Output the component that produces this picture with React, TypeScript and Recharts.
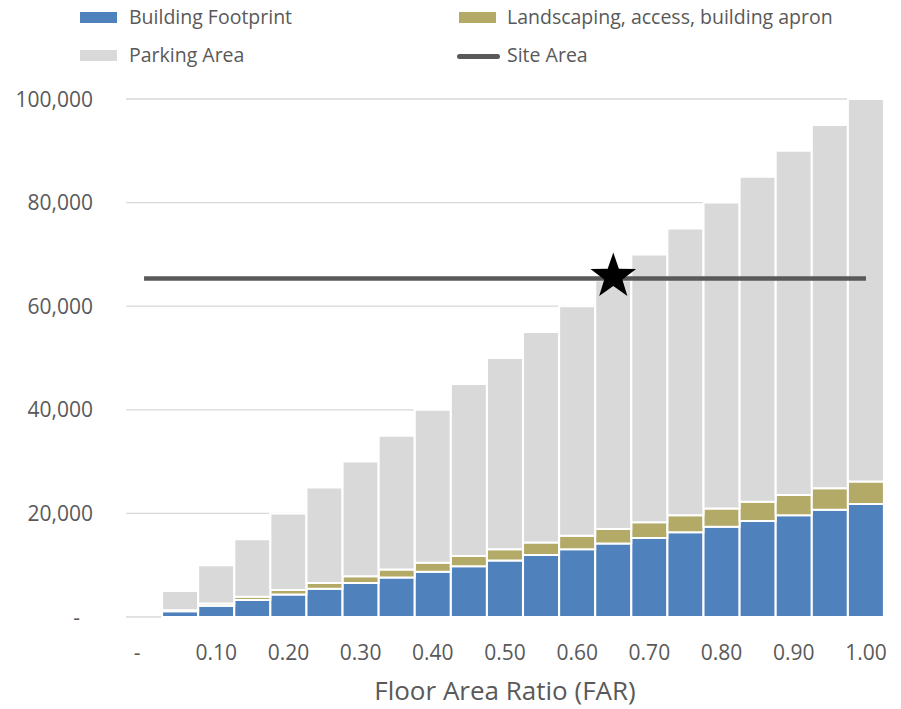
import { ComposedChart, Bar, Line, XAxis, YAxis, CartesianGrid, ReferenceDot } from 'recharts';

const farLabels = ['-', '0.05', '0.10', '0.15', '0.20', '0.25', '0.30', '0.35', '0.40', '0.45', '0.50',
  '0.55', '0.60', '0.65', '0.70', '0.75', '0.80', '0.85', '0.90', '0.95', '1.00'];

const buildingFootprint = [null, 1090, 2180, 3270, 4360, 5450, 6540, 7630, 8720, 9810, 10900,
  11990, 13080, 14170, 15260, 16350, 17440, 18530, 19620, 20710, 21800];

const landscaping = [null, 218, 436, 654, 872, 1090, 1308, 1526, 1744, 1962, 2180,
  2398, 2616, 2834, 3052, 3270, 3488, 3706, 3924, 4142, 4360];

const parkingArea = [null, 3692, 7384, 11076, 14768, 18460, 22152, 25844, 29536, 33228, 36920,
  40612, 44304, 47996, 51688, 55380, 59072, 62764, 66456, 70148, 73840];

const siteArea = 65340;
const starFar = '0.65';
const yTicks = [0, 20000, 40000, 60000, 80000, 100000];

const data = farLabels.map((far, i) => ({
  far,
  building: buildingFootprint[i],
  landscaping: landscaping[i],
  parking: parkingArea[i],
  site: siteArea
}));

const textColor = '#595959';
const font = '"Open Sans", sans-serif';

function YTick(props: any) {
  const { x, y, payload } = props;
  const v = payload.value;
  return (
    <text x={v === 0 ? x - 13 : x} y={y} dy="0.36em" textAnchor="end" fill={textColor} fontSize={21} fontFamily={font}>
      {v === 0 ? '-' : v.toLocaleString('en-US')}
    </text>
  );
}

function XTick(props: any) {
  const { x, y, payload } = props;
  return (
    <text x={payload.value === '-' ? x - 7 : x} y={y} dy="0.71em" textAnchor="middle" fill={textColor} fontSize={21} fontFamily={font}>
      {payload.value}
    </text>
  );
}

function Star(props: any) {
  const { cx, cy } = props;
  const R = 24, r = 9.5;
  const pts = [];
  for (let k = 0; k < 10; k++) {
    const rad = k % 2 === 0 ? R : r;
    const a = -Math.PI / 2 + (k * Math.PI) / 5;
    pts.push(`${cx + rad * Math.cos(a)},${cy - 2 + rad * Math.sin(a)}`);
  }
  return <polygon points={pts.join(' ')} fill="#000" />;
}

const legendText = { position: 'absolute' as const, fontSize: 19.5, color: textColor, fontFamily: font, lineHeight: '24px', whiteSpace: 'nowrap' as const };

export default function App() {
  return (
    <div style={{ position: 'relative', width: 885, height: 700 }}>
      <div style={{ position: 'absolute', left: 72, top: 4, width: 37, height: 11, background: '#4F81BD' }} />
      <div style={{ ...legendText, left: 121, top: -3 }}>Building Footprint</div>
      <div style={{ position: 'absolute', left: 451, top: 4, width: 37, height: 11, background: '#B2AA66' }} />
      <div style={{ ...legendText, left: 499, top: -3 }}>Landscaping, access, building apron</div>
      <div style={{ position: 'absolute', left: 72, top: 42, width: 37, height: 11, background: '#D9D9D9' }} />
      <div style={{ ...legendText, left: 121, top: 35 }}>Parking Area</div>
      <div style={{ position: 'absolute', left: 449, top: 46, width: 43, height: 4.5, borderRadius: 3, background: textColor }} />
      <div style={{ ...legendText, left: 499, top: 35 }}>Site Area</div>

      <div style={{ position: 'absolute', left: 0, top: 0 }}>
        <ComposedChart width={885} height={700} data={data}
          margin={{ top: 91, right: 9, left: 0, bottom: 0 }}
          barCategoryGap={0} barGap={0}>
          <CartesianGrid vertical={false} stroke="#D9D9D9" strokeWidth={1.3} />
          <XAxis dataKey="far" interval={1} axisLine={false} tickLine={false} tickMargin={22}
            height={91} tick={<XTick />}
            label={{ value: 'Floor Area Ratio (FAR)', position: 'insideBottom', offset: 8, fill: textColor, fontSize: 26, fontFamily: font }} />
          <YAxis domain={[0, 100000]} ticks={yTicks} width={118} axisLine={false} tickLine={false}
            tickMargin={27} tick={<YTick />} />
          <Bar dataKey="building" stackId="a" fill="#4F81BD" stroke="#fff" strokeWidth={2} isAnimationActive={false} />
          <Bar dataKey="landscaping" stackId="a" fill="#B2AA66" stroke="#fff" strokeWidth={2} isAnimationActive={false} />
          <Bar dataKey="parking" stackId="a" fill="#D9D9D9" stroke="#fff" strokeWidth={2} isAnimationActive={false} />
          <Line dataKey="site" stroke={textColor} strokeWidth={4.5} dot={false} type="linear" isAnimationActive={false} />
          <ReferenceDot x={starFar} y={siteArea} shape={<Star />} />
        </ComposedChart>
      </div>
    </div>
  );
}
